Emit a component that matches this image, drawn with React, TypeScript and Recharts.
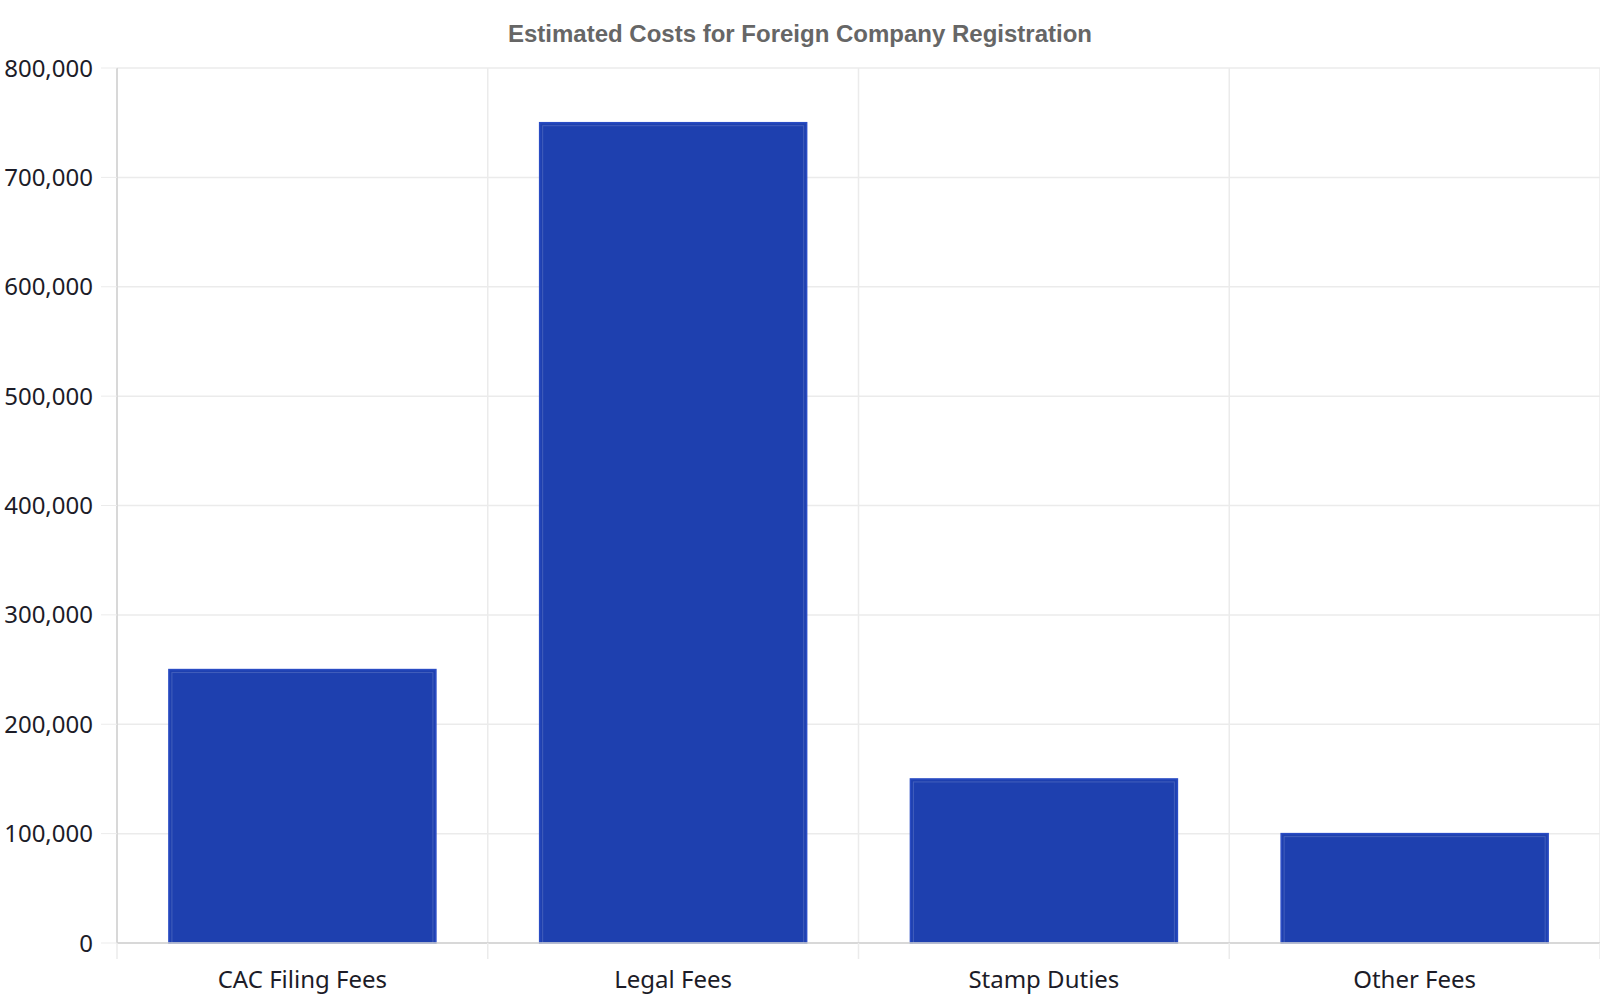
import React from 'react';
import { BarChart, Bar, XAxis, YAxis, CartesianGrid } from 'recharts';

const categories = ['CAC Filing Fees', 'Legal Fees', 'Stamp Duties', 'Other Fees'];
const costs = [250000, 750000, 150000, 100000];
const yTicks = [0, 100000, 200000, 300000, 400000, 500000, 600000, 700000, 800000];

const data = categories.map((name, i) => ({ name, cost: costs[i] }));

const BAR_FILL = '#1e40af';
const GRID = '#ebebeb';
const AXIS = '#d0d0d0';
const TEXT = '#1c1c28';
const FONT_SIZE = 24;

const BarShape = (props: any) => {
  const { x, y, width, height } = props;
  if (!height || height <= 0) return null;
  return (
    <g>
      <rect x={x} y={y} width={width} height={height} fill={BAR_FILL} stroke="#2a4cc4" strokeWidth={1.5} />
      <rect
        x={x + 3}
        y={y + 3}
        width={Math.max(0, width - 6)}
        height={Math.max(0, height - 3)}
        fill="none"
        stroke="rgba(255,255,255,0.16)"
        strokeWidth={1}
      />
    </g>
  );
};

// category label plus the short marks under the axis at the category boundaries
const CategoryTick = (props: any) => {
  const { x, y, payload, index, axisY } = props;
  const half = payload?.offset ?? 0;
  const last = index === categories.length - 1;
  return (
    <g>
      <line x1={x - half} x2={x - half} y1={axisY} y2={axisY + 16} stroke={GRID} strokeWidth={1.5} />
      {last && <line x1={x + half} x2={x + half} y1={axisY} y2={axisY + 16} stroke={GRID} strokeWidth={1.5} />}
      <text x={x} y={y} dy="0.71em" textAnchor="middle" fill={TEXT} fontSize={FONT_SIZE}>
        {payload.value}
      </text>
    </g>
  );
};

// vertical grid at the edges of the category bands (band scale has no padding)
const boundaryLines = ({ offset }: any) => {
  const n = categories.length;
  return [...categories.map((_, i) => offset.left + (i * offset.width) / n), offset.left + offset.width];
};

export default function App() {
  const top = 68;
  const plotHeight = 1000 - top - 57;
  return (
    <div style={{ position: 'absolute', left: 0, top: 0, width: 1600, height: 1000, background: '#fff' }}>
      <div
        style={{
          position: 'absolute',
          top: 20,
          left: 0,
          width: 1600,
          textAlign: 'center',
          fontFamily: '"Liberation Sans", Arial, sans-serif',
          fontWeight: 'bold',
          fontSize: 24,
          color: '#666666',
          lineHeight: '28px',
        }}
      >
        Estimated Costs for Foreign Company Registration
      </div>
      <BarChart
        width={1600}
        height={1000}
        data={data}
        margin={{ top, right: 0, bottom: 0, left: 0 }}
        barCategoryGap="14%"
        style={{ fontFamily: '"Noto Sans", sans-serif' }}
      >
        <XAxis
          dataKey="name"
          height={57}
          tickSize={0}
          tickMargin={28}
          tickLine={false}
          axisLine={{ stroke: AXIS, strokeWidth: 1.5 }}
          tick={<CategoryTick axisY={top + plotHeight} />}
        />
        <YAxis
          domain={[0, 800000]}
          ticks={yTicks}
          width={117}
          tickSize={16}
          tickMargin={8}
          tickLine={{ stroke: GRID }}
          axisLine={{ stroke: AXIS, strokeWidth: 1.5 }}
          tick={{ fill: TEXT, fontSize: FONT_SIZE }}
          tickFormatter={(v: number) => v.toLocaleString('en-US')}
        />
        <CartesianGrid stroke={GRID} strokeWidth={1.5} verticalCoordinatesGenerator={boundaryLines} />
        <Bar dataKey="cost" shape={<BarShape />} isAnimationActive={false} />
      </BarChart>
    </div>
  );
}
